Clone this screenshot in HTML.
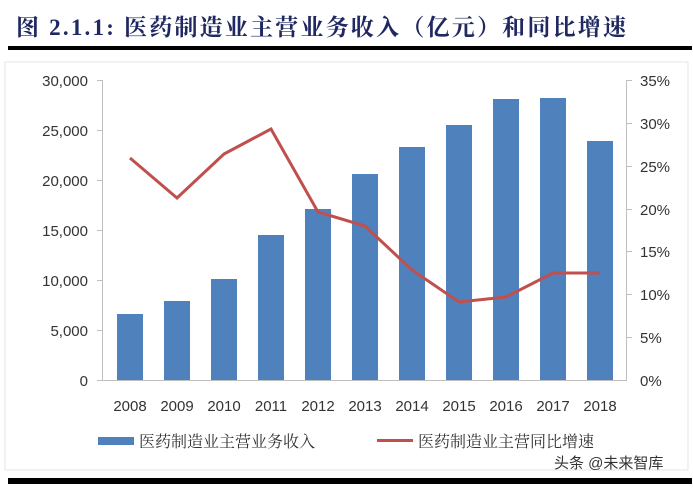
<!DOCTYPE html>
<html><head><meta charset="utf-8"><style>
body{margin:0;width:693px;height:484px;background:#fff;overflow:hidden}
</style></head><body>
<svg width="693" height="484" xmlns="http://www.w3.org/2000/svg" font-family="Liberation Sans, Noto Sans CJK SC, sans-serif">
<text x="16" y="35" font-family="Liberation Serif, Noto Serif CJK SC, serif" font-weight="bold" font-size="23" fill="#1f2860" textLength="610" lengthAdjust="spacing">图 2.1.1:  医药制造业主营业务收入（亿元）和同比增速</text>
<rect x="8" y="46" width="684" height="4" fill="#000"/>
<rect x="5" y="62" width="683" height="408" fill="none" stroke="#e4e4e4"/>
<g stroke="#bfbfbf" stroke-width="1" fill="none">
<path d="M102.5 80V380.5H626.5V80"/>
<path d="M97 80.5h6M97 130.5h6M97 180.5h6M97 230.5h6M97 280.5h6M97 330.5h6M97 380.5h6"/>
<path d="M626 80.5h6M626 123.5h6M626 166.5h6M626 209.5h6M626 251.5h6M626 294.5h6M626 337.5h6"/>
</g>
<g font-size="15" fill="#333" text-anchor="end">
<text x="88" y="86">30,000</text><text x="88" y="136">25,000</text><text x="88" y="186">20,000</text><text x="88" y="236">15,000</text><text x="88" y="286">10,000</text><text x="88" y="336">5,000</text><text x="88" y="386">0</text>
</g>
<g font-size="15" fill="#333">
<text x="640" y="86">35%</text><text x="640" y="129">30%</text><text x="640" y="172">25%</text><text x="640" y="215">20%</text><text x="640" y="257">15%</text><text x="640" y="300">10%</text><text x="640" y="343">5%</text><text x="640" y="386">0%</text>
</g>
<g fill="#4f81bd">
<rect x="117" y="314" width="26" height="66"/>
<rect x="164" y="301" width="26" height="79"/>
<rect x="211" y="279" width="26" height="101"/>
<rect x="258" y="235" width="26" height="145"/>
<rect x="305" y="209" width="26" height="171"/>
<rect x="352" y="174" width="26" height="206"/>
<rect x="399" y="147" width="26" height="233"/>
<rect x="446" y="125" width="26" height="255"/>
<rect x="493" y="99" width="26" height="281"/>
<rect x="540" y="98" width="26" height="282"/>
<rect x="587" y="141" width="26" height="239"/>
</g>
<polyline fill="none" stroke="#c0504d" stroke-width="3" points="130,158 177,198 224,154 271,129 318,212 365,226 412,270 459,302 506,297 553,273 600,273"/>
<g font-size="15" fill="#333" text-anchor="middle">
<text x="130" y="411">2008</text><text x="177" y="411">2009</text><text x="224" y="411">2010</text><text x="271" y="411">2011</text><text x="318" y="411">2012</text><text x="365" y="411">2013</text><text x="412" y="411">2014</text><text x="459" y="411">2015</text><text x="506" y="411">2016</text><text x="553" y="411">2017</text><text x="600" y="411">2018</text>
</g>
<rect x="98" y="437" width="36" height="8" fill="#4f81bd"/>
<text x="139" y="447" font-size="16" fill="#333" font-family="Liberation Serif, Noto Serif CJK SC, serif">医药制造业主营业务收入</text>
<rect x="377" y="439" width="36" height="3" fill="#c0504d"/>
<text x="418" y="447" font-size="16" fill="#333" font-family="Liberation Serif, Noto Serif CJK SC, serif">医药制造业主营同比增速</text>
<text x="554" y="468" font-size="15" fill="#333">头条 @未来智库</text>
<rect x="8" y="478" width="684" height="6" fill="#000"/>
</svg>
</body></html>
